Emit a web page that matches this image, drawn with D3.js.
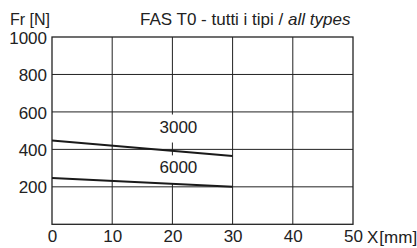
<!DOCTYPE html>
<html>
<head>
<meta charset="utf-8">
<script src="https://cdn.jsdelivr.net/npm/d3@7"></script>
<style>
  body { margin: 0; background: #fff; }
  svg { display: block; font-family: "Liberation Sans", Arial, sans-serif; }
</style>
</head>
<body>
<svg width="417" height="248"></svg>
<script>
const svg = d3.select("svg");

const xTicks = [0, 10, 20, 30, 40, 50];
const yTicks = [200, 400, 600, 800, 1000];

// force curves, one per speed
const seriesNames = ["3000", "6000"];
const seriesX = [0, 30];
const series3000 = [447, 365];
const series6000 = [247, 200];

// where the curve labels sit, in chart units
const labelX = [21, 21];
const labelY = [490, 272];

const margin = { top: 37, left: 52 };
const innerWidth = 353 - margin.left;
const innerHeight = 224.3 - margin.top;

const xScale = d3.scaleLinear().domain([0, 50]).range([0, innerWidth]);
const yScale = d3.scaleLinear().domain([0, 1000]).range([innerHeight, 0]);

const g = svg.append('g')
  .attr('transform', `translate(${margin.left},${margin.top})`);

const ink = '#222';
const fontSize = 17;

// grid
g.append('g').selectAll('line').data(xTicks.slice(1, -1)).enter().append('line')
  .attr('x1', d => xScale(d)).attr('x2', d => xScale(d))
  .attr('y1', 0).attr('y2', innerHeight)
  .attr('stroke', ink).attr('stroke-width', 1);

g.append('g').selectAll('line').data(yTicks.slice(0, -1)).enter().append('line')
  .attr('x1', 0).attr('x2', innerWidth)
  .attr('y1', d => yScale(d)).attr('y2', d => yScale(d))
  .attr('stroke', ink).attr('stroke-width', 1);

// frame
g.append('rect')
  .attr('width', innerWidth).attr('height', innerHeight)
  .attr('fill', 'none').attr('stroke', ink).attr('stroke-width', 1.3);

// axes (labels only)
const yAxisG = g.append('g')
  .call(d3.axisLeft(yScale).tickValues(yTicks).tickFormat(d3.format('d')).tickSize(0).tickPadding(5));
yAxisG.select('.domain').remove();
yAxisG.selectAll('text').attr('font-size', fontSize).attr('fill', ink)
  .attr('dy', '0.36em');
yAxisG.attr('font-family', null);

const xAxisG = g.append('g')
  .attr('transform', `translate(0,${innerHeight})`)
  .call(d3.axisBottom(xScale).tickValues(xTicks).tickFormat(d3.format('d')).tickSize(0).tickPadding(6));
xAxisG.select('.domain').remove();
xAxisG.selectAll('text').attr('font-size', fontSize).attr('fill', ink);
xAxisG.attr('font-family', null);

// label masks
const labels = seriesNames.map((n, i) => ({ name: n, x: labelX[i], y: labelY[i] }));
g.selectAll('.mask').data(labels).enter().append('rect')
  .attr('class', 'mask')
  .attr('x', d => xScale(d.x) - 20)
  .attr('y', d => yScale(d.y) - 18)
  .attr('width', 40).attr('height', 28)
  .attr('fill', '#fff');

// curves
const curves = [series3000, series6000];
const line = d3.line().x((d, i) => xScale(seriesX[i])).y(d => yScale(d));
g.selectAll('.curve').data(curves).enter().append('path')
  .attr('class', 'curve')
  .attr('d', line)
  .attr('fill', 'none').attr('stroke', '#1a1a1a').attr('stroke-width', 2);

g.selectAll('.clabel').data(labels).enter().append('text')
  .attr('class', 'clabel')
  .attr('x', d => xScale(d.x)).attr('y', d => yScale(d.y))
  .attr('text-anchor', 'middle')
  .attr('font-size', fontSize).attr('fill', ink)
  .text(d => d.name);

// titles
svg.append('text').attr('x', 10).attr('y', 25)
  .attr('font-size', 16).attr('fill', ink).text('Fr [N]');

const title = svg.append('text').attr('x', 140).attr('y', 25)
  .attr('font-size', fontSize).attr('fill', ink);
title.append('tspan').text('FAS T0 - tutti i tipi / ');
title.append('tspan').attr('font-style', 'italic').text('all types');

const xTitle = svg.append('text').attr('x', 367).attr('y', 243)
  .attr('font-size', fontSize).attr('fill', ink);
xTitle.append('tspan').text('X');
xTitle.append('tspan').attr('dx', 1).text('[mm]');
</script>
</body>
</html>
